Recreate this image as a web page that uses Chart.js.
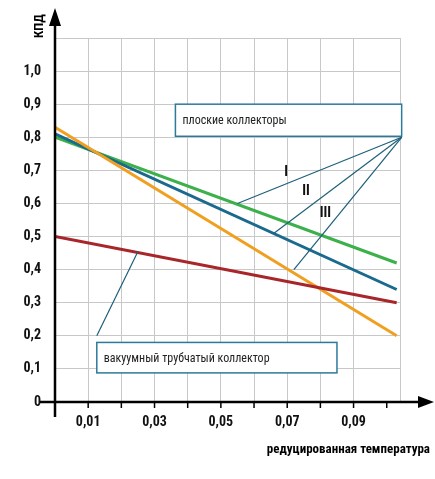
<!DOCTYPE html><html><head><meta charset="utf-8">
<script src="https://cdn.jsdelivr.net/npm/chart.js@4"></script>
<style>html,body{margin:0;background:#fff}#w{width:435px;height:479px}</style></head><body><div id="w"><canvas id="c"></canvas></div>
<script>
const xEnds=[0,0.103];
const flatI=[0.80,0.42];
const flatII=[0.81,0.34];
const flatIII=[0.83,0.20];
const vacuum=[0.50,0.30];
const seriesNames=['I','II','III','вакуумный трубчатый коллектор'];
const xTickLabels=['0,01','0,03','0,05','0,07','0,09'];
const yTitle='КПД', xTitle='редуцированная температура';
const boxFlat='плоские коллекторы', boxVac='вакуумный трубчатый коллектор';
const F='"Liberation Sans Narrow","Roboto Condensed","Liberation Sans",sans-serif';
const mk=(v,c,n)=>({label:n,data:xEnds.map((x,i)=>({x,y:v[i]})),borderColor:c,borderWidth:3,pointRadius:0,fill:false});
const deco={id:'deco',afterDatasetsDraw(ch){
 const c=ch.ctx,x=ch.scales.x,y=ch.scales.y,X=v=>x.getPixelForValue(v),Y=v=>y.getPixelForValue(v);
 c.save();c.strokeStyle='#000';c.fillStyle='#000';c.lineWidth=2.5;
 const x0=X(0),y0=Y(0);
 c.beginPath();c.moveTo(x0,y0+15);c.lineTo(x0,22);c.moveTo(x0-15,y0);c.lineTo(428,y0);c.stroke();
 c.beginPath();c.moveTo(x0,8);c.lineTo(x0-6,26);c.lineTo(x0+6,26);c.fill();
 c.beginPath();c.moveTo(434,y0);c.lineTo(418,y0-6);c.lineTo(418,y0+6);c.fill();
 for(const v of [0.01,0.02,0.03,0.04,0.05,0.06,0.07,0.08,0.09,0.1]){c.lineWidth=1.5;c.beginPath();c.moveTo(X(v),y0);c.lineTo(X(v),y0+6);c.stroke();}
 c.font='bold 13px '+F;c.save();c.translate(x0-15,38);c.rotate(-Math.PI/2);c.textAlign='left';c.textBaseline='middle';c.fillText(yTitle,0,0);c.restore();
 c.textAlign='right';c.textBaseline='middle';c.fillText(xTitle,430,450);
 // boxes
 c.lineWidth=1.5;c.strokeStyle='#2b7a9a';
 const box=(a,b,cc,d,t)=>{c.fillStyle='#fff';c.fillRect(X(a),Y(b),X(cc)-X(a),Y(d)-Y(b));c.strokeRect(X(a),Y(b),X(cc)-X(a),Y(d)-Y(b));c.fillStyle='#222';c.font='12px '+F;c.textAlign='left';c.fillText(t,X(a)+7,(Y(b)+Y(d))/2+1);};
 box(0.0363,0.90,0.1045,0.803,boxFlat);
 box(0.0126,0.18,0.085,0.088,boxVac);
 c.strokeStyle='#1d5f7a';c.lineWidth=1.2;
 const ln=(a,b,cc,d)=>{c.beginPath();c.moveTo(X(a),Y(b));c.lineTo(X(cc),Y(d));c.stroke();};
 ln(0.1045,0.80,0.055,0.60);ln(0.1045,0.80,0.066,0.51);ln(0.1045,0.80,0.072,0.40);ln(0.0126,0.20,0.025,0.455);
 c.fillStyle='#111';c.font='bold 14px '+F;c.textAlign='center';
 c.fillText(seriesNames[0],X(0.0697),Y(0.695));c.fillText(seriesNames[1],X(0.0757),Y(0.635));c.fillText(seriesNames[2],X(0.0815),Y(0.57));
 c.restore();}};
new Chart(document.getElementById('c'),{type:'line',data:{datasets:[mk(vacuum,'#a8262a',seriesNames[3]),mk(flatIII,'#f0a020',seriesNames[2]),mk(flatII,'#1a6a8e',seriesNames[1]),mk(flatI,'#3cb04a',seriesNames[0])]},
options:{responsive:true,maintainAspectRatio:false,animation:false,layout:{padding:{top:38,right:35,left:0,bottom:0}},
plugins:{legend:{display:false},tooltip:{enabled:false}},
scales:{x:{type:'linear',min:0,max:0.104,afterFit:s=>{s.height=77},border:{display:false},grid:{color:'#c8c8c8',lineWidth:1,drawTicks:false},
 ticks:{stepSize:0.01,padding:12,color:'#111',font:{family:F,size:14,weight:'bold'},autoSkip:false,maxRotation:0,callback:v=>{const k=Math.round(v*100);return k%2===1&&k<10?xTickLabels[(k-1)/2]:''}}},
 y:{min:0,max:1.1,afterFit:s=>{s.width=55},border:{display:false},grid:{color:'#c8c8c8',lineWidth:1,drawTicks:false},
 ticks:{stepSize:0.1,padding:14,color:'#111',font:{family:F,size:14,weight:'bold'},callback:v=>{const k=Math.round(v*10);return k>10?'':k===0?'0':(k/10).toFixed(1).replace('.',',')}}}}},
plugins:[deco]});
</script></body></html>
